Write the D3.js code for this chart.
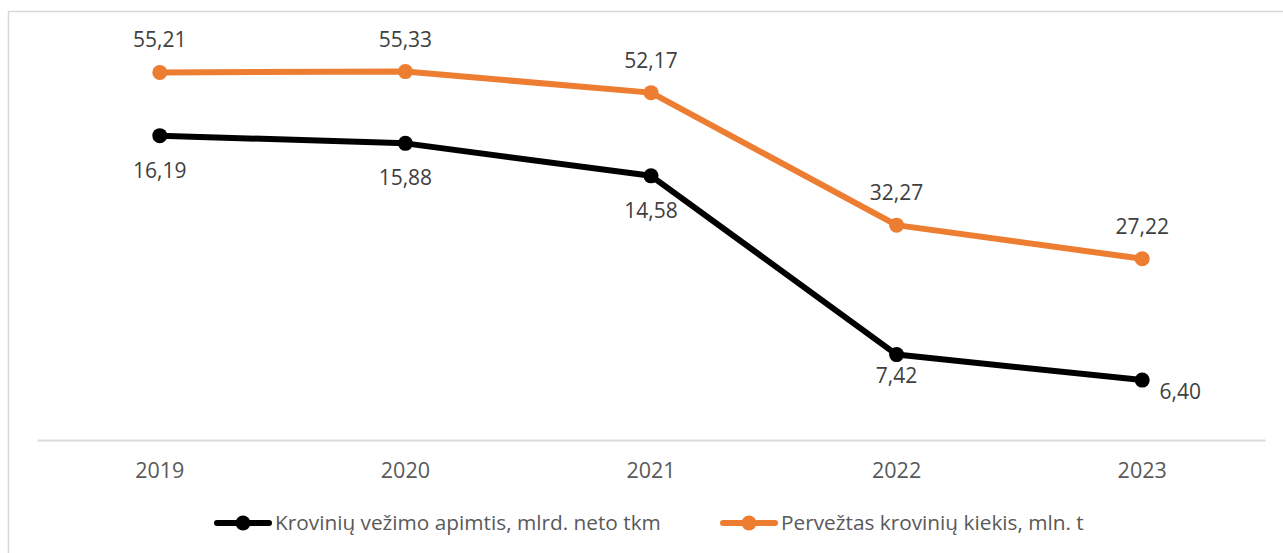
<!DOCTYPE html>
<html>
<head>
<meta charset="utf-8">
<script src="https://d3js.org/d3.v7.min.js"></script>
<style>
html,body{margin:0;padding:0;background:#fff;}
svg{display:block;}
</style>
</head>
<body>
<svg id="chart" width="1283" height="553"></svg>
<script>
const years = ["2019", "2020", "2021", "2022", "2023"];
const volumeTkm = [16.19, 15.88, 14.58, 7.42, 6.40];      // mlrd. neto tkm
const cargoTonnes = [55.21, 55.33, 52.17, 32.27, 27.22];  // mln. t
const seriesNames = ["Krovinių vežimo apimtis, mlrd. neto tkm", "Pervežtas krovinių kiekis, mln. t"];
const primaryDomain = [4, 20];
const secondaryDomain = [0, 60];

const fmt = v => v.toFixed(2).replace(".", ",");
const FONT = "'Open Sans', 'DejaVu Sans', sans-serif";

const svg = d3.select("#chart");
const W = 1283, H = 553;

// chart border
svg.append("rect").attr("x", 8.5).attr("y", 11.5).attr("width", W + 10).attr("height", H + 10)
  .attr("fill", "none").attr("stroke", "#d9d9d9").attr("stroke-width", 1.5);

const plot = {left: 37, right: 1265, top: 40.5, bottom: 440};

const x = d3.scaleBand().domain(years).range([plot.left, plot.right]);
const yL = d3.scaleLinear().domain(primaryDomain).range([plot.bottom, plot.top]);
const yR = d3.scaleLinear().domain(secondaryDomain).range([plot.bottom, plot.top]);
const cx = d => x(d) + x.bandwidth() / 2;

// x axis
const xAxis = d3.axisBottom(x).tickSize(0).tickPadding(23);
const gx = svg.append("g").attr("transform", `translate(0,${plot.bottom})`).call(xAxis);
gx.select(".domain").attr("stroke", "#d9d9d9").attr("stroke-width", 2);
gx.selectAll("text").attr("font-family", FONT).attr("font-size", 21.5).attr("fill", "#595959");

const series = [
  {values: volumeTkm, y: yL, color: "#000000", labelPos: [[0, 42], [0, 42], [0, 42], [0, 28], [38, 19]]},
  {values: cargoTonnes, y: yR, color: "#ed7d31", labelPos: [[0, -25], [0, -25], [0, -25], [0, -25], [0, -25]]}
];

series.forEach(s => {
  const pts = years.map((yr, i) => ({yr, v: s.values[i], i}));
  const line = d3.line().x(d => cx(d.yr)).y(d => s.y(d.v));
  svg.append("path").datum(pts).attr("d", line).attr("fill", "none")
    .attr("stroke", s.color).attr("stroke-width", 6).attr("stroke-linejoin", "round").attr("stroke-linecap", "round");
  svg.selectAll(null).data(pts).enter().append("circle")
    .attr("cx", d => cx(d.yr)).attr("cy", d => s.y(d.v)).attr("r", 7.5).attr("fill", s.color);
  svg.selectAll(null).data(pts).enter().append("text")
    .attr("x", d => cx(d.yr) + s.labelPos[d.i][0])
    .attr("y", d => s.y(d.v) + s.labelPos[d.i][1])
    .attr("text-anchor", "middle")
    .attr("font-family", FONT).attr("font-size", 21).attr("fill", "#404040")
    .text(d => fmt(d.v));
});

// legend
const legendItems = [
  {name: seriesNames[0], color: "#000000", x0: 217},
  {name: seriesNames[1], color: "#ed7d31", x0: 723}
];
const ly = 523;
legendItems.forEach(it => {
  svg.append("line").attr("x1", it.x0).attr("x2", it.x0 + 52).attr("y1", ly).attr("y2", ly)
    .attr("stroke", it.color).attr("stroke-width", 6).attr("stroke-linecap", "round");
  svg.append("circle").attr("cx", it.x0 + 26).attr("cy", ly).attr("r", 7.5).attr("fill", it.color);
  svg.append("text").attr("x", it.x0 + 58).attr("y", ly + 7).attr("font-family", FONT)
    .attr("font-size", 20.8).attr("fill", "#595959").text(it.name);
});
</script>
</body>
</html>
